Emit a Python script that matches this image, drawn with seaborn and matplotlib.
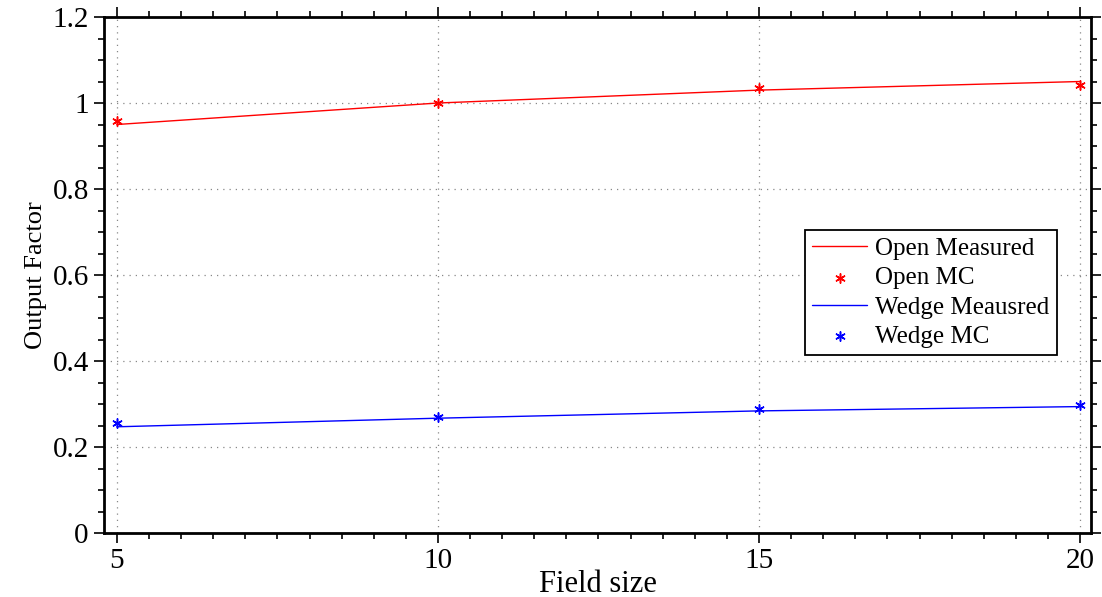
import numpy as np
import pandas as pd
import matplotlib
matplotlib.use("Agg")
import matplotlib.pyplot as plt
from matplotlib.ticker import MultipleLocator, FuncFormatter
import seaborn as sns

# Output factor versus field size, open and wedged fields
field_size = [5, 10, 15, 20]
open_measured = [0.950, 1.000, 1.030, 1.050]
open_mc = [0.958, 1.000, 1.035, 1.043]
wedge_measured = [0.247, 0.267, 0.284, 0.294]
wedge_mc = [0.256, 0.270, 0.288, 0.298]

sns.set_style("white")
plt.rcParams["font.family"] = ["Liberation Serif", "DejaVu Serif"]
plt.rcParams["text.color"] = "black"
plt.rcParams["axes.labelcolor"] = "black"
plt.rcParams["xtick.color"] = "black"
plt.rcParams["ytick.color"] = "black"

fig = plt.figure(figsize=(11.02, 5.97), dpi=100)
ax = fig.add_axes([0.0944, 0.1072, 0.8956, 0.8643])

lines = pd.DataFrame({"Field size": field_size, "Open": open_measured, "Wedge": wedge_measured})
mcs = pd.DataFrame({"Field size": field_size, "Open": open_mc, "Wedge": wedge_mc})

star = (6, 2, 0)
sns.lineplot(data=lines, x="Field size", y="Open", color="#ff0000", lw=1.0,
             ax=ax, label="Open Measured")
sns.scatterplot(data=mcs, x="Field size", y="Open", color="#ff0000", marker=star,
                s=45, linewidth=1.1, edgecolor="#ff0000", ax=ax, label="Open MC")
sns.lineplot(data=lines, x="Field size", y="Wedge", color="#0000ff", lw=1.0,
             ax=ax, label="Wedge Meausred")
sns.scatterplot(data=mcs, x="Field size", y="Wedge", color="#0000ff", marker=star,
                s=45, linewidth=1.1, edgecolor="#0000ff", ax=ax, label="Wedge MC")

ax.set_xlim(4.80, 20.17)
ax.set_ylim(0, 1.2)
ax.xaxis.set_major_locator(MultipleLocator(5))
ax.xaxis.set_minor_locator(MultipleLocator(0.5))
ax.yaxis.set_major_locator(MultipleLocator(0.2))
ax.yaxis.set_minor_locator(MultipleLocator(0.05))
ax.yaxis.set_major_formatter(FuncFormatter(
    lambda v, p: "0" if abs(v) < 1e-9 else ("1" if abs(v - 1) < 1e-9 else f"{v:.1f}")))

ax.grid(True, which="major", linestyle=(0, (1, 4)), color="#888888", lw=0.9)
for side in ax.spines.values():
    side.set_color("black")
    side.set_linewidth(2.0)

ax.tick_params(which="both", direction="out", top=True, right=True,
               bottom=True, left=True, color="black", width=1.2)
ax.tick_params(which="major", length=7, labelsize=21, pad=4)
ax.tick_params(which="minor", length=4)

ax.set_xlabel("Field size", fontsize=22, labelpad=-3)
ax.set_ylabel("Output Factor", fontsize=19, labelpad=4)

leg = ax.legend(loc="upper left", bbox_to_anchor=(0.710, 0.587), fontsize=18,
                frameon=True, fancybox=False, edgecolor="black", framealpha=1,
                borderpad=0.3, labelspacing=0.27, handlelength=2.2, handletextpad=0.3,
                borderaxespad=0)
leg.get_frame().set_linewidth(1.3)

fig.savefig("out.png", dpi=100)
